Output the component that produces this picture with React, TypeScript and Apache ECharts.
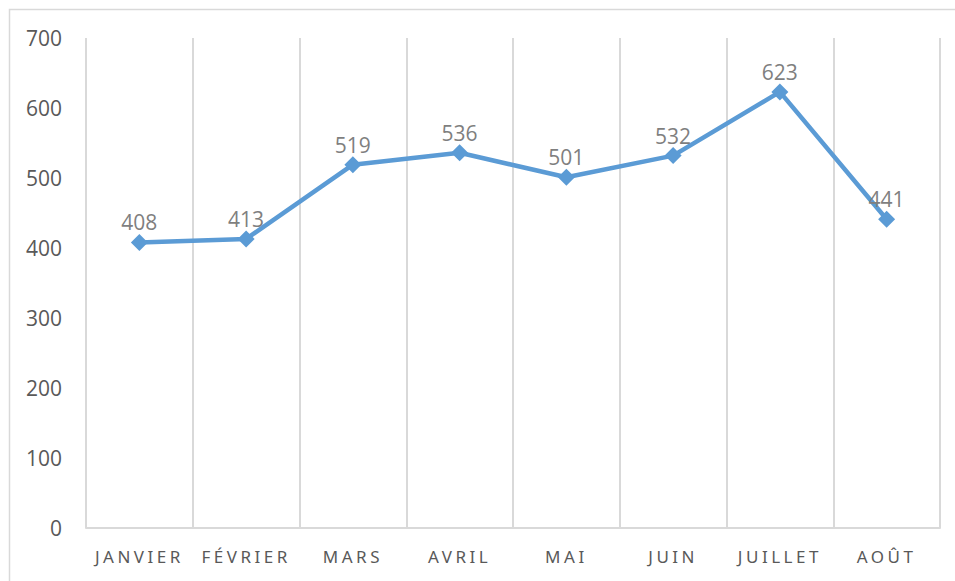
import React, { useEffect, useRef } from "react";
import * as echarts from "echarts";

const categories = ["JANVIER", "FÉVRIER", "MARS", "AVRIL", "MAI", "JUIN", "JUILLET", "AOÛT"];
const values = [408, 413, 519, 536, 501, 532, 623, 441];
const yMin = 0;
const yMax = 700;
const yInterval = 100;

export default function App() {
  const ref = useRef<HTMLDivElement>(null);
  useEffect(() => {
    if (!ref.current) return;
    const chart = echarts.init(ref.current, undefined, { renderer: "svg" });
    chart.setOption({
      animation: false,
      backgroundColor: "#ffffff",
      graphic: [
        {
          type: "rect",
          shape: { x: 9.5, y: 9.5, width: 960, height: 620 },
          style: { fill: "none", stroke: "#d9d9d9", lineWidth: 1.5 },
          silent: true,
          z: -1,
        },
      ],
      grid: { left: 86, right: 15, top: 38, bottom: 53, containLabel: false },
      xAxis: {
        type: "category",
        data: categories,
        boundaryGap: true,
        axisLine: { show: true, lineStyle: { color: "#d9d9d9", width: 2 } },
        axisTick: { show: false },
        splitLine: { show: true, lineStyle: { color: "#d9d9d9", width: 2 } },
        axisLabel: {
          color: "#595959",
          fontSize: 17,
          fontFamily: "Noto Sans",
          margin: 20,
          interval: 0,
        },
      },
      yAxis: {
        type: "value",
        min: yMin,
        max: yMax,
        interval: yInterval,
        axisLine: { show: false },
        axisTick: { show: false },
        splitLine: { show: false },
        axisLabel: {
          color: "#595959",
          fontSize: 21,
          fontFamily: "Open Sans",
          margin: 24,
        },
      },
      series: [
        {
          type: "line",
          data: values,
          symbol: "diamond",
          symbolSize: 17,
          lineStyle: { color: "#5b9bd5", width: 4.5 },
          itemStyle: { color: "#5b9bd5" },
          label: {
            show: true,
            position: "top",
            distance: 1,
            color: "#7f7f7f",
            fontSize: 21,
            fontFamily: "Open Sans",
          },
        },
      ],
    });
    return () => chart.dispose();
  }, []);
  return (
    <>
      <style>{`#root text[style*="Noto Sans"] { letter-spacing: 3.5px; }`}</style>
      <div
        ref={ref}
        style={{ position: "fixed", left: 0, top: 0, width: 955, height: 581 }}
      />
    </>
  );
}
